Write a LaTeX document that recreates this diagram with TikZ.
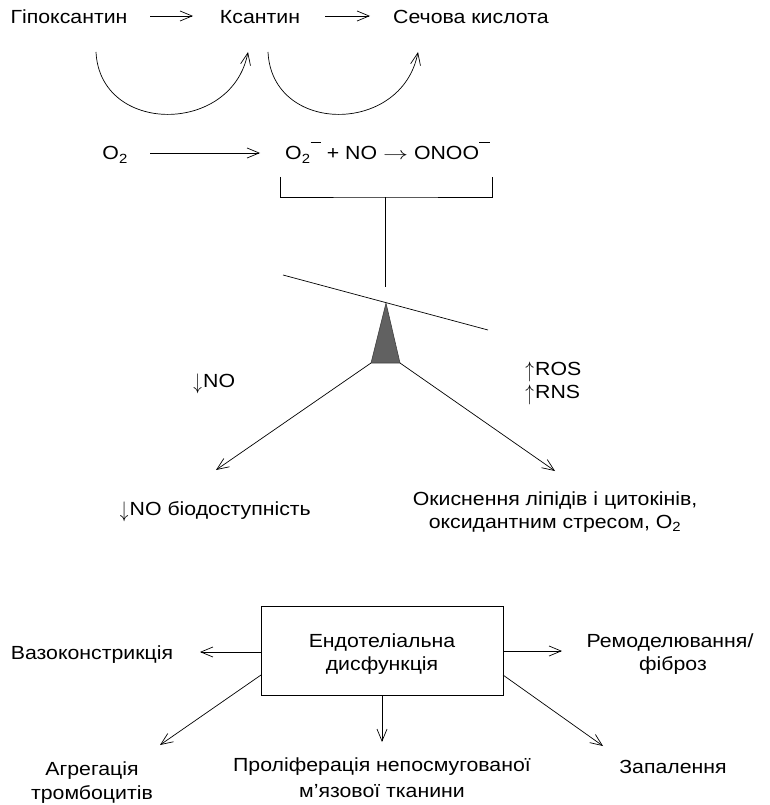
\documentclass[tikz,border=0pt]{standalone}
\usepackage{fontspec}
\usepackage{graphicx}
\setmainfont{Liberation Sans}[FakeStretch=1.12]
\usetikzlibrary{arrows.meta}
\newcommand{\mysupminus}{\raisebox{0.9em}{\rule{0.55em}{0.07em}}}
\newcommand{\myup}{\makebox[0.42em][l]{\kern-0.1em\raisebox{-0.12em}{\scalebox{1}[1.3]{$\uparrow$}}}}
\newcommand{\mydown}{\makebox[0.42em][l]{\kern-0.1em\raisebox{-0.12em}{\scalebox{1}[1.3]{$\downarrow$}}}}
\newcommand{\myright}{\scalebox{1.45}[1]{$\rightarrow$}}
\begin{document}
\begin{tikzpicture}[x=1pt,y=-1pt,
  lbl/.style={inner sep=0pt, font=\fontsize{19}{23}\selectfont},
  ar/.style={-{Straight Barb[length=12pt,width=10pt]}, line width=0.7pt},
  ln/.style={line width=0.7pt}]
\useasboundingbox (0,0) rectangle (769,805);

% --- top row
\node[lbl,anchor=base] (hypo) at (69,23.5) {Гіпоксантин};
\node[lbl,anchor=base] (xan) at (260,23.5) {Ксантин};
\node[lbl,anchor=base west] (uric) at (393,23.5) {Сечова кислота};
\coordinate (a1s) at (150,16); \coordinate (a1e) at (193,16);
\coordinate (a2s) at (325,16); \coordinate (a2e) at (370,16);
\draw[ar] (a1s) -- (a1e);
\draw[ar] (a2s) -- (a2e);
\coordinate (c1s) at (96,52); \coordinate (c1e) at (248,52);
\coordinate (c2s) at (268,52); \coordinate (c2e) at (418,52);
\draw[ar] (c1s) .. controls (100,135) and (232,135) .. (c1e);
\draw[ar] (c2s) .. controls (272,135) and (402,135) .. (c2e);

% --- O2 row
\node[lbl,anchor=base east] (o2) at (128,160) {O\textsubscript{2}};
\node[lbl,anchor=base west] (react) at (285,160) {O\textsubscript{2}\mysupminus{} + NO \myright{} ONOO\mysupminus};
\coordinate (o2s) at (150,153); \coordinate (o2e) at (260,153);
\draw[ar] (o2s) -- (o2e);

% --- bracket and stem
\coordinate (bl) at (280,177); \coordinate (br) at (492,177);
\coordinate (stemtop) at (385,197); \coordinate (stembot) at (385,287);
\draw[ln] (bl) |- (stemtop) -| (br);
\draw[ln] (stemtop) -- (stembot);

% --- lever and fulcrum
\coordinate (levL) at (283,275); \coordinate (levR) at (488,330);
\draw[ln] (levL) -- (levR);
\coordinate (apex) at (386,303);
\coordinate (baseL) at (371,363); \coordinate (baseR) at (400,363);
\draw[line width=0.6pt, draw=black!75, fill=black!62] (apex) -- (baseL) -- (baseR) -- cycle;

% --- labels near the fulcrum
\node[lbl,anchor=base west] (dno) at (195,387) {\mydown NO};
\node[lbl,anchor=base west] (ros) at (527,375) {\myup ROS};
\node[lbl,anchor=base west] (rns) at (527,398) {\myup RNS};

% --- two branches
\coordinate (tipL) at (216,470); \coordinate (tipR) at (555,471);
\draw[ar] (baseL) -- (tipL);
\draw[ar] (baseR) -- (tipR);
\node[lbl,anchor=base east] (bio) at (311,515) {\mydown NO біодоступність};
\node[lbl,anchor=base] (ox1) at (555,505) {Окиснення ліпідів і цитокінів,};
\node[lbl,anchor=base] (ox2) at (555,528) {оксидантним стресом, O\textsubscript{2}};

% --- endothelial dysfunction box
\node[draw, line width=0.7pt, minimum width=242pt, minimum height=89pt, inner sep=0pt] (box) at (382,650.5) {};
\node[lbl,anchor=base] (bt1) at (382,647) {Ендотеліальна};
\node[lbl,anchor=base] (bt2) at (382,670) {дисфункція};

\coordinate (bLm) at (261,652); \coordinate (bRm) at (503,651);
\coordinate (bLl) at (261,675); \coordinate (bRl) at (503,675);
\coordinate (bB) at (382,695);
\coordinate (tVaso) at (200,652); \coordinate (tRemo) at (562,651);
\coordinate (tAgg) at (160,745); \coordinate (tInf) at (603,746);
\coordinate (tProl) at (382,742);
\draw[ar] (bLm) -- (tVaso);
\draw[ar] (bRm) -- (tRemo);
\draw[ar] (bLl) -- (tAgg);
\draw[ar] (bRl) -- (tInf);
\draw[ar] (bB) -- (tProl);

\node[lbl,anchor=base] (vaso) at (92,659) {Вазоконстрикція};
\node[lbl,anchor=base] (rem1) at (670,647) {Ремоделювання/};
\node[lbl,anchor=base] (rem2) at (673,670) {фіброз};
\node[lbl,anchor=base] (agg1) at (92,775) {Агрегація};
\node[lbl,anchor=base] (agg2) at (92,799) {тромбоцитів};
\node[lbl,anchor=base] (pro1) at (382,771) {Проліферація непосмугованої};
\node[lbl,anchor=base] (pro2) at (382,797) {м’язової тканини};
\node[lbl,anchor=base] (inf) at (673,773) {Запалення};
\end{tikzpicture}
\end{document}
